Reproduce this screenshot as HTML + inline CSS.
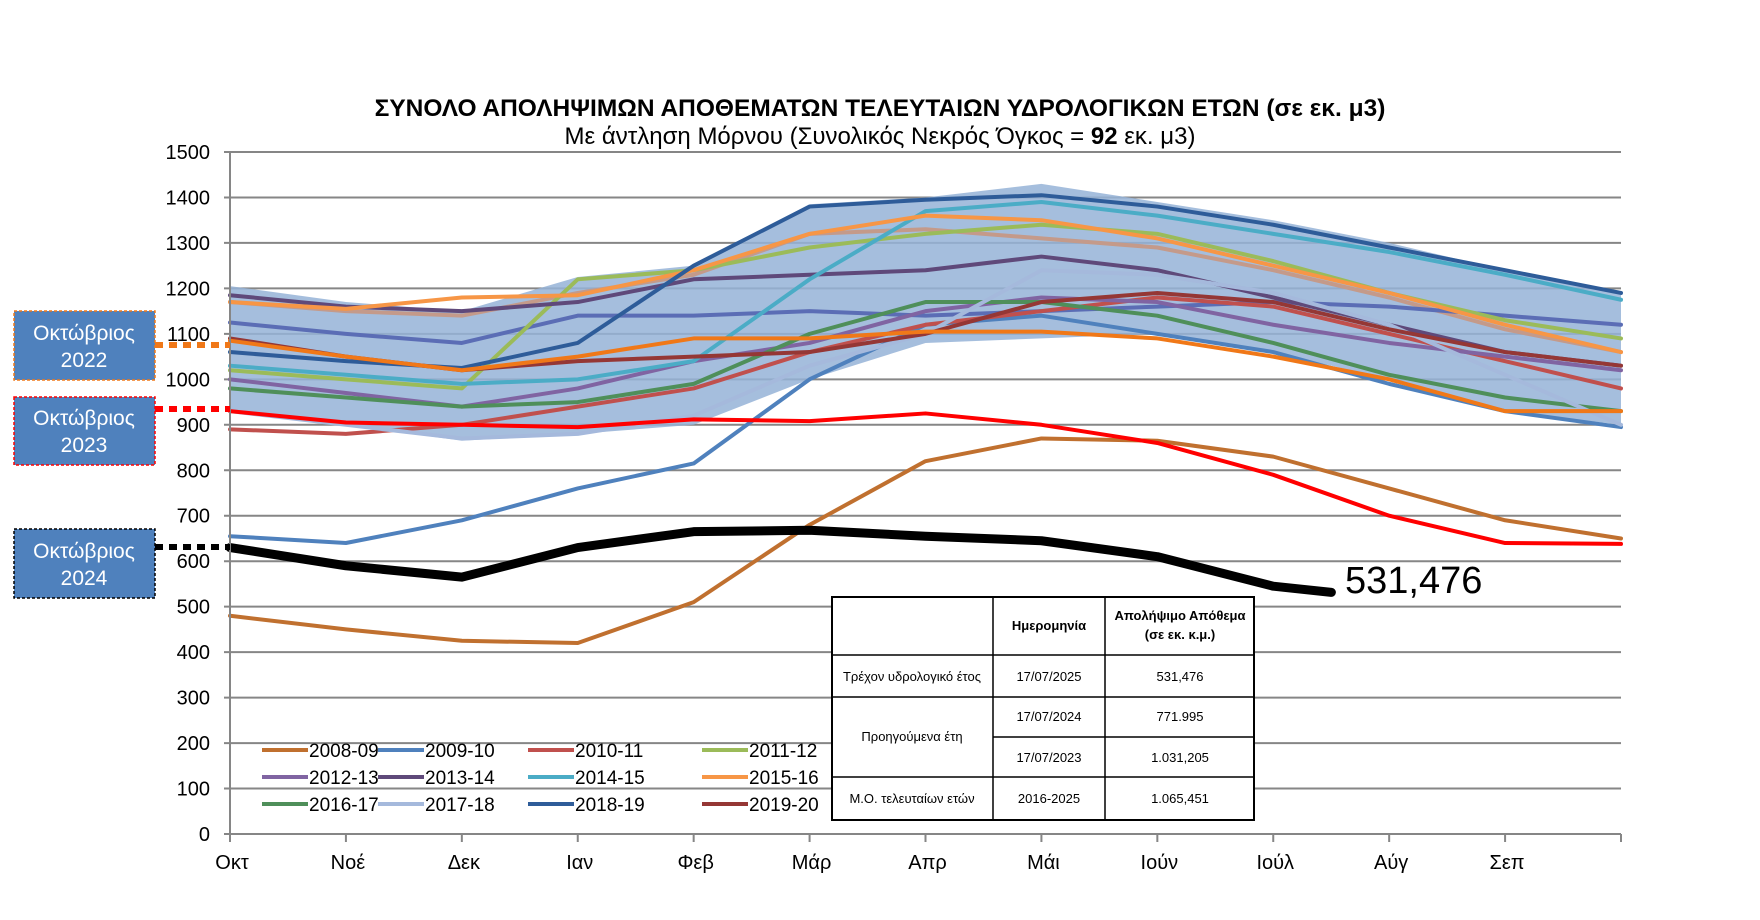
<!DOCTYPE html>
<html><head><meta charset="utf-8">
<style>
body{margin:0;background:#fff;}
svg{display:block;font-family:"Liberation Sans","DejaVu Sans",sans-serif;}
</style></head>
<body>
<svg id="chart" width="1760" height="920" viewBox="0 0 1760 920">
<text x="880" y="116" text-anchor="middle" font-size="24.5" font-weight="bold">ΣΥΝΟΛΟ ΑΠΟΛΗΨΙΜΩΝ ΑΠΟΘΕΜΑΤΩΝ ΤΕΛΕΥΤΑΙΩΝ ΥΔΡΟΛΟΓΙΚΩΝ ΕΤΩΝ  (σε εκ. μ3)</text>
<text x="880" y="144" text-anchor="middle" font-size="24">Με άντληση Μόρνου (Συνολικός Νεκρός Όγκος = <tspan font-weight="bold">92</tspan> εκ. μ3)</text>
<g id="grid"></g><g id="band"></g><g id="series"></g><g id="axes"></g><g id="legend"></g><g id="tbl"></g><g id="callouts"></g>
</svg>
<script>
// ---- data (values at month starts Oct..Sep + end of Sep) ----
const months = ["Οκτ","Νοέ","Δεκ","Ιαν","Φεβ","Μάρ","Απρ","Μάι","Ιούν","Ιούλ","Αύγ","Σεπ"];
const yTicks = [0,100,200,300,400,500,600,700,800,900,1000,1100,1200,1300,1400,1500];
const bandUpper = [1205,1170,1150,1225,1250,1385,1400,1430,1390,1350,1300,1240,1190];
const bandLower = [930,900,865,880,900,1000,1080,1090,1100,1060,1000,930,900];
const s0809 = [480,450,425,420,510,680,820,870,865,830,760,690,650];
const s0910 = [655,640,690,760,815,1000,1120,1140,1100,1060,990,930,895];
const s1011 = [890,880,900,940,980,1060,1120,1150,1180,1160,1100,1040,980];
const s1112 = [1020,1000,980,1220,1240,1290,1320,1340,1320,1260,1190,1130,1090];
const s1213 = [1000,970,940,980,1040,1080,1150,1180,1170,1120,1080,1050,1020];
const s1314 = [1185,1160,1150,1170,1220,1230,1240,1270,1240,1180,1120,1060,1030];
const s1415 = [1030,1010,990,1000,1040,1220,1370,1390,1360,1320,1280,1230,1175];
const s1516 = [1170,1155,1180,1185,1240,1320,1360,1350,1310,1250,1190,1120,1060];
const s1617 = [980,960,940,950,990,1100,1170,1170,1140,1080,1010,960,930];
const s1718 = [930,900,870,880,920,1030,1100,1240,1230,1190,1120,1010,900];
const s1819 = [1060,1040,1025,1080,1250,1380,1395,1405,1380,1340,1290,1240,1190];
const s1920 = [1090,1050,1020,1040,1050,1060,1100,1170,1190,1170,1110,1060,1030];
const sTan = [1170,1150,1140,1190,1230,1320,1330,1310,1290,1240,1180,1110,1060];
const sSlate = [1125,1100,1080,1140,1140,1150,1140,1150,1160,1170,1160,1140,1120];
const s2223 = [1085,1050,1020,1050,1090,1090,1105,1105,1090,1050,1000,930,930];
const s2324 = [930,905,900,895,912,908,925,900,860,790,700,640,638];
const s2425 = [630,590,565,630,665,668,655,645,610,545];
const s2425Last = 531.476;
const legendNames = ["2008-09","2009-10","2010-11","2011-12","2012-13","2013-14","2014-15","2015-16","2016-17","2017-18","2018-19","2019-20"];
const legendColors = ["#c0702f","#4f81bd","#c0504d","#9bbb59","#8064a2","#5f497a","#4bacc6","#f79646","#4f8f5a","#a5b9dc","#2e5c99","#953735"];

const NS="http://www.w3.org/2000/svg";
const X0=230,X1=1621,Y0=834,Y1=152;
const xs=m=>X0+m*(X1-X0)/12;
const ys=v=>Y0-v*(Y0-Y1)/1500;
function mk(tag,attrs,parent){const e=document.createElementNS(NS,tag);for(const k in attrs)e.setAttribute(k,attrs[k]);parent.appendChild(e);return e;}
const G=id=>document.getElementById(id);

yTicks.forEach(t=>{
  const l=mk("line",{x1:X0-6,x2:X1,y1:ys(t),y2:ys(t),stroke:"#868686","stroke-width":2},G("grid"));
  
  
  const tx=mk("text",{x:210,y:ys(t)+7,"text-anchor":"end","font-size":20},G("axes"));
  tx.textContent=t;
  
  
});
mk("line",{x1:X0,x2:X0,y1:Y1,y2:Y0,stroke:"#868686","stroke-width":2},G("axes"));
for(let i=0;i<=12;i++){mk("line",{x1:xs(i),x2:xs(i),y1:Y0,y2:Y0+8,stroke:"#868686","stroke-width":2},G("axes"));}
months.forEach((m,i)=>{
  const t=mk("text",{x:xs(i)+2,y:869,"text-anchor":"middle","font-size":20},G("axes"));
  t.textContent=m;
  
  
});
// band
let d="M"+bandUpper.map((v,i)=>xs(i)+","+ys(v)).join("L");
d+="L"+bandLower.map((v,i)=>xs(i)+","+ys(v)).reverse().join("L")+"Z";
const band=mk("path",{d:d,fill:"#95b3d7","fill-opacity":0.85},G("band"));



function line(arr,color,w,name,extra){
  const pts=arr.map((v,i)=>xs(i)+","+ys(v));
  if(extra)pts.push(extra);
  const p=mk("polyline",{points:pts.join(" "),fill:"none",stroke:color,"stroke-width":w,"stroke-linejoin":"round","stroke-linecap":"round"},G("series"));
  
  
}
const hist=[s0809,s0910,s1011,s1112,s1213,s1314,s1415,s1516,s1617,s1718,s1819,s1920];
line(sTan,"#c49a8a",4,"series-2020-21");
line(sSlate,"#5b6db5",4,"series-2021-22");
hist.forEach((a,i)=>line(a,legendColors[i],4,"series-"+legendNames[i]));
line(s2223,"#f07818",4,"series-2022-23");
line(s2324,"#ff0000",4,"series-2023-24");
line(s2425,"#000000",9,"series-2024-25",(X0+(289/365)*(X1-X0))+","+ys(s2425Last));
const lbl=mk("text",{x:1345,y:593,"font-size":38},G("series"));
lbl.textContent=s2425Last.toFixed(3).replace(".",",");



// legend
legendNames.forEach((n,i)=>{
  const col=i%4,row=Math.floor(i/4);
  const lx=[262,378,528,702][col],ly=750+row*27;
  mk("line",{x1:lx,x2:lx+46,y1:ly,y2:ly,stroke:legendColors[i],"stroke-width":4},G("legend"));
  const t=mk("text",{x:lx+47,y:ly+7,"font-size":19},G("legend"));
  t.textContent=n;
  
  
});
</script>
<svg style="position:absolute;left:0;top:0" width="1760" height="920">
<g font-family="Liberation Sans, DejaVu Sans, sans-serif">
<rect x="832" y="597" width="422" height="223" fill="#fff" stroke="#000" stroke-width="2"/>
<g stroke="#000" stroke-width="1.5">
<line x1="993" y1="597" x2="993" y2="820"/><line x1="1105" y1="597" x2="1105" y2="820"/>
<line x1="832" y1="655" x2="1254" y2="655"/><line x1="832" y1="697" x2="1254" y2="697"/>
<line x1="993" y1="737" x2="1254" y2="737"/><line x1="832" y1="777" x2="1254" y2="777"/>
</g>
<g font-size="13" text-anchor="middle">
<text x="1049" y="630" font-weight="bold">Ημερομηνία</text>
<text x="1180" y="620" font-weight="bold">Απολήψιμο Απόθεμα</text>
<text x="1180" y="639" font-weight="bold">(σε εκ. κ.μ.)</text>
<text x="912" y="681">Τρέχον υδρολογικό έτος</text><text x="1049" y="681">17/07/2025</text><text x="1180" y="681">531,476</text>
<text x="912" y="741">Προηγούμενα έτη</text>
<text x="1049" y="721">17/07/2024</text><text x="1180" y="721">771.995</text>
<text x="1049" y="762">17/07/2023</text><text x="1180" y="762">1.031,205</text>
<text x="912" y="803">Μ.Ο.  τελευταίων ετών</text><text x="1049" y="803">2016-2025</text><text x="1180" y="803">1.065,451</text>
</g>
<g>
<line x1="155" y1="345" x2="230" y2="345" stroke="#f07818" stroke-width="6" stroke-dasharray="8,6"/>
<line x1="155" y1="409" x2="230" y2="409" stroke="#ff0000" stroke-width="6" stroke-dasharray="8,6"/>
<line x1="155" y1="547" x2="230" y2="547" stroke="#000" stroke-width="6" stroke-dasharray="8,6"/>
<rect x="14" y="311" width="141" height="69" fill="#4f81bd" stroke="#f07818" stroke-dasharray="3,2" stroke-width="1.5"/>
<rect x="14" y="397" width="141" height="68" fill="#4f81bd" stroke="#ff0000" stroke-dasharray="3,2" stroke-width="1.5"/>
<rect x="14" y="529" width="141" height="69" fill="#4f81bd" stroke="#000" stroke-dasharray="3,2" stroke-width="1.5"/>
<g fill="#fff" font-size="21" text-anchor="middle">
<text x="84" y="340">Οκτώβριος</text><text x="84" y="367">2022</text>
<text x="84" y="425">Οκτώβριος</text><text x="84" y="452">2023</text>
<text x="84" y="558">Οκτώβριος</text><text x="84" y="585">2024</text>
</g></g>
</g></svg>
</body></html>
